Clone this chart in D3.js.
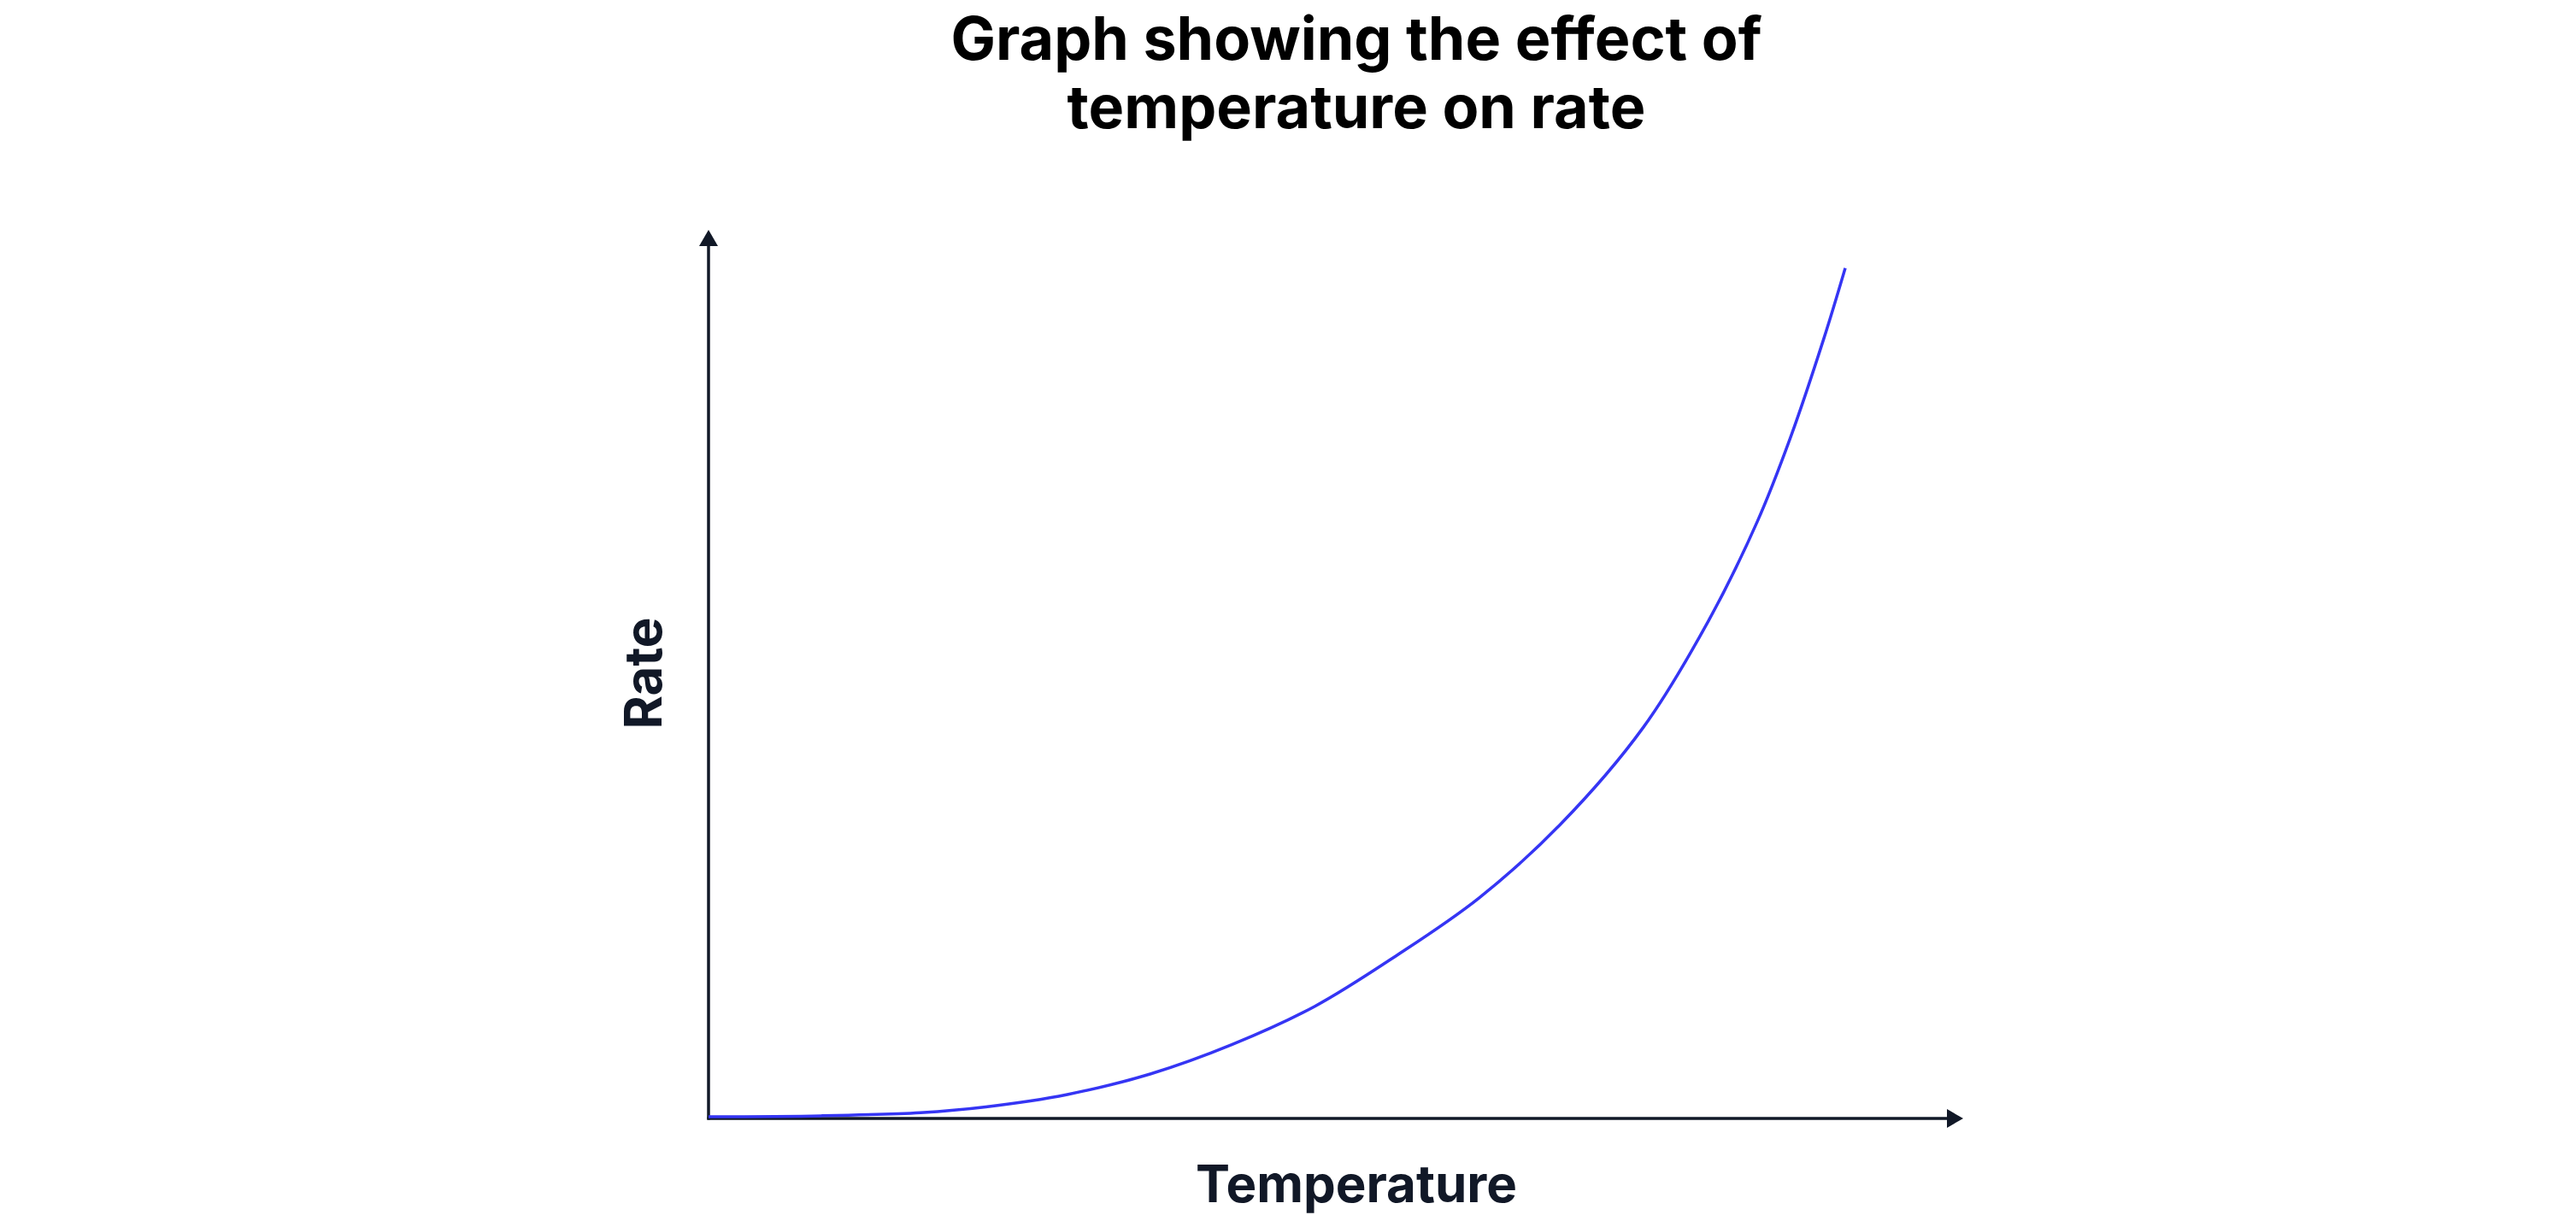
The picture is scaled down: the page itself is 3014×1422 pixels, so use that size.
<!DOCTYPE html>
<html>
<head>
<meta charset="utf-8">
<script src="https://cdn.jsdelivr.net/npm/d3@7"></script>
<style>
  body { margin: 0; background: #fff; }
  text { font-family: "Inter", "Noto Sans", sans-serif; font-weight: 700; }
</style>
</head>
<body>
<div id="wrapper"></div>
<script>
// values (arbitrary units, 0-100 on both axes)
const temperature = [0, 9.0, 16.9, 22.1, 28.6, 35.2, 41.7, 48.3, 54.8, 61.4, 67.9, 74.5, 79.7, 83.6, 86.2, 88.9, 90.6];
const rate        = [0.2, 0.3, 0.65, 1.3, 2.7, 5.0, 8.3, 12.6, 18.3, 24.8, 33.1, 44.0, 56.0, 67.2, 76.5, 87.8, 95.7];
const titleLines = ["Graph showing the effect of", "temperature on rate"];
const xLabel = "Temperature";
const yLabel = "Rate";

function buildPlot() {
    const dimension = {
        width: 3014,
        height: 1422,
        margin: { top: 269, left: 829, bottom: 113, right: 717 }
    };
    dimension.boundedWidth = dimension.width - dimension.margin.left - dimension.margin.right;
    dimension.boundedHeight = dimension.height - dimension.margin.top - dimension.margin.bottom;

    const svg = d3.select("#wrapper").append("svg")
        .attr("width", dimension.width)
        .attr("height", dimension.height);

    const xScaler = d3.scaleLinear()
        .domain([0, 100])
        .range([dimension.margin.left, dimension.margin.left + dimension.boundedWidth]);
    const yScaler = d3.scaleLinear()
        .domain([0, 100])
        .range([dimension.margin.top + dimension.boundedHeight, dimension.margin.top]);

    const axisColor = "#111827";
    const arrowLen = 19, arrowHalf = 11;

    // axes with arrow heads
    const x0 = xScaler(0), y0 = yScaler(0), xEnd = xScaler(100), yEnd = yScaler(100);
    svg.append("line")
        .attr("x1", x0 - 1.5).attr("y1", y0)
        .attr("x2", xEnd - arrowLen + 1).attr("y2", y0)
        .attr("stroke", axisColor).attr("stroke-width", 3.5);
    svg.append("polygon")
        .attr("points", `${xEnd},${y0} ${xEnd - arrowLen},${y0 - arrowHalf} ${xEnd - arrowLen},${y0 + arrowHalf}`)
        .attr("fill", axisColor);
    svg.append("line")
        .attr("x1", x0).attr("y1", y0 + 1.5)
        .attr("x2", x0).attr("y2", yEnd + arrowLen - 1)
        .attr("stroke", axisColor).attr("stroke-width", 3.5);
    svg.append("polygon")
        .attr("points", `${x0},${yEnd} ${x0 - arrowHalf},${yEnd + arrowLen} ${x0 + arrowHalf},${yEnd + arrowLen}`)
        .attr("fill", axisColor);

    // curve
    const data = temperature.map((t, i) => ({ t: t, r: rate[i] }));
    const lineGenerator = d3.line()
        .x(d => xScaler(d.t))
        .y(d => yScaler(d.r))
        .curve(d3.curveCatmullRom.alpha(0.5));
    svg.append("path")
        .attr("d", lineGenerator(data))
        .attr("fill", "none")
        .attr("stroke", "#3535f4")
        .attr("stroke-width", 3.5);

    // title
    const title = svg.append("text")
        .attr("text-anchor", "middle")
        .attr("font-size", 70)
        .attr("fill", "#000");
    titleLines.forEach((l, i) => {
        title.append("tspan")
            .attr("x", 1587)
            .attr("y", 70 + i * 80)
            .text(l);
    });

    // axis labels
    svg.append("text")
        .attr("x", 1587).attr("y", 1407)
        .attr("text-anchor", "middle")
        .attr("font-size", 60)
        .attr("fill", axisColor)
        .text(xLabel);
    svg.append("text")
        .attr("transform", "translate(774,788) rotate(-90)")
        .attr("text-anchor", "middle")
        .attr("font-size", 60)
        .attr("fill", axisColor)
        .text(yLabel);
}

buildPlot();
</script>
</body>
</html>
